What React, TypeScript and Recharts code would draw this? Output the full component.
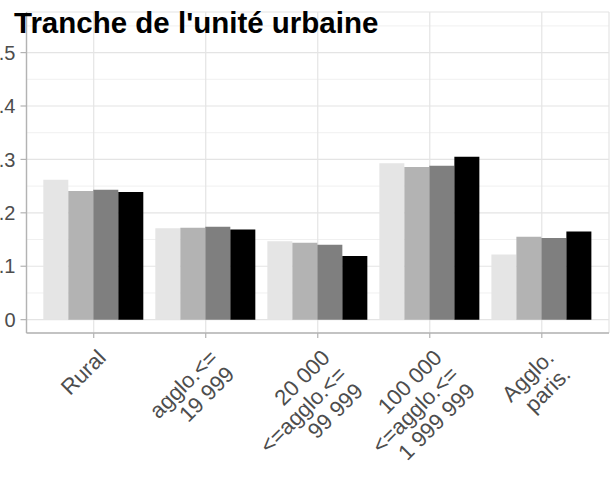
import React from 'react';
import { BarChart, Bar, XAxis, YAxis, CartesianGrid } from 'recharts';

const categories = [
    'Rural',
    'agglo.<=\n19 999',
    '20 000\n<=agglo.<=\n99 999',
    '100 000\n<=agglo.<=\n1 999 999',
    'Agglo.\nparis.',
];
const serie1 = [0.262, 0.171, 0.147, 0.293, 0.122];
const serie2 = [0.241, 0.172, 0.144, 0.286, 0.155];
const serie3 = [0.243, 0.174, 0.140, 0.288, 0.153];
const serie4 = [0.239, 0.169, 0.119, 0.305, 0.165];

const yTicks = [0, 0.1, 0.2, 0.3, 0.4, 0.5];
const minorTicks = [0.05, 0.15, 0.25, 0.35, 0.45, 0.55];

const data = categories.map((cat, i) => ({
    cat,
    s1: serie1[i],
    s2: serie2[i],
    s3: serie3[i],
    s4: serie4[i],
}));

const FONT = '"Liberation Sans", Arial, sans-serif';
const TEXT = '#4d4d4d';
const BORDER = '#b3b3b3';

const fmtY = (v: number) => (v === 0 ? '0' : v.toFixed(1).replace(/^0/, ''));

// rotated, right-aligned multi-line category label
function XTick({ x, y, payload }: any) {
    const lines = String(payload.value).split('\n');
    return (
        <g transform={`translate(${x},${y})`}>
            <text transform="rotate(-45)" textAnchor="end" fill={TEXT} fontSize={22} fontFamily={FONT}>
                {lines.map((l, i) => (
                    <tspan key={i} x={-4} dy={i === 0 ? 23 : 23.5}>{l}</tspan>
                ))}
            </text>
        </g>
    );
}

export default function App() {
    const pad = { left: 11.2, right: 11.2 };
    return (
        <div style={{ position: 'absolute', left: 0, top: 0, width: 613, height: 480, background: '#fff', fontFamily: FONT }}>
            <BarChart
                width={613}
                height={480}
                data={data}
                margin={{ top: 12, right: 4, left: 0.5, bottom: 0 }}
                barCategoryGap="5%"
                barGap={0}
            >
                {/* minor grid first, then major on top */}
                <CartesianGrid vertical={false} horizontalValues={minorTicks} stroke="#f0f0f0" strokeWidth={1} />
                <CartesianGrid stroke="#e4e4e4" strokeWidth={1.2} />

                <XAxis
                    dataKey="cat"
                    interval={0}
                    height={147}
                    padding={pad}
                    tick={<XTick />}
                    tickSize={5}
                    tickMargin={2}
                    tickLine={{ stroke: BORDER, strokeWidth: 1.2 }}
                    axisLine={{ stroke: BORDER, strokeWidth: 1.4 }}
                />
                <XAxis xAxisId="top" orientation="top" dataKey="cat" height={0} padding={pad} tick={false} tickLine={false}
                    axisLine={{ stroke: BORDER, strokeWidth: 1.4 }} />
                <YAxis
                    width={26}
                    domain={[-0.025, 0.576]}
                    allowDataOverflow
                    ticks={yTicks}
                    tickFormatter={fmtY}
                    tickSize={6}
                    tickMargin={5}
                    tick={{ fill: TEXT, fontSize: 20, fontFamily: FONT }}
                    tickLine={{ stroke: BORDER, strokeWidth: 1.2 }}
                    axisLine={{ stroke: BORDER, strokeWidth: 1.4 }}
                />
                <YAxis yAxisId="right" orientation="right" width={0} domain={[-0.025, 0.576]} allowDataOverflow
                    tick={false} tickLine={false} axisLine={{ stroke: BORDER, strokeWidth: 1.4 }} />

                <Bar dataKey="s1" fill="#e5e5e5" isAnimationActive={false} />
                <Bar dataKey="s2" fill="#b3b3b3" isAnimationActive={false} />
                <Bar dataKey="s3" fill="#7f7f7f" isAnimationActive={false} />
                <Bar dataKey="s4" fill="#000000" isAnimationActive={false} />
            </BarChart>
            <div style={{ position: 'absolute', left: 14, top: 8, fontSize: 29.5, lineHeight: 1, fontWeight: 'bold', color: '#000', whiteSpace: 'nowrap' }}>
                Tranche de l'unité urbaine
            </div>
        </div>
    );
}
